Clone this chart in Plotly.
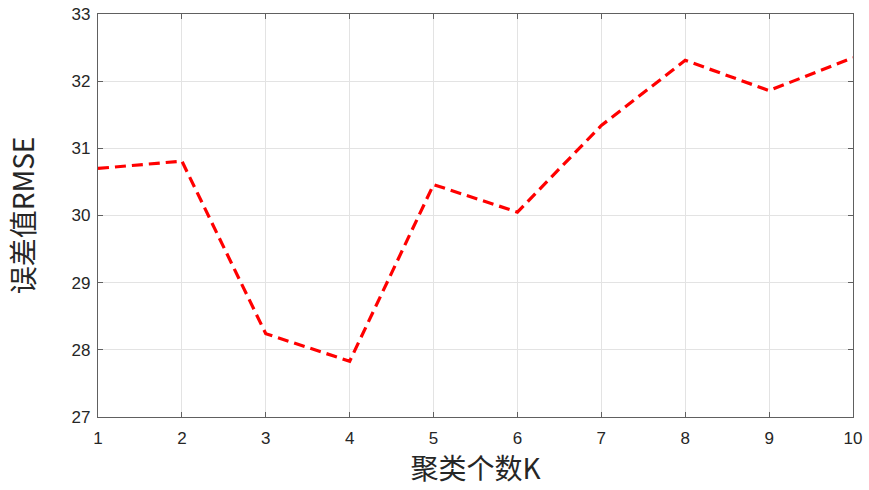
import plotly.graph_objects as go

k_values = [1, 2, 3, 4, 5, 6, 7, 8, 9, 10]
rmse_values = [30.70, 30.81, 28.24, 27.83, 30.46, 30.05, 31.34, 32.31, 31.86, 32.35]
x_ticks = [1, 2, 3, 4, 5, 6, 7, 8, 9, 10]
y_ticks = [27, 28, 29, 30, 31, 32, 33]

fig = go.Figure()
fig.add_trace(go.Scatter(
    x=k_values, y=rmse_values, mode="lines",
    line=dict(color="#ff0000", width=3.2, dash="11px,6px"),
    showlegend=False,
))

axis_common = dict(
    showline=True, mirror="ticks", linecolor="#606060", linewidth=1.2,
    ticks="inside", ticklen=5, tickcolor="#606060", tickwidth=1.2,
    showgrid=True, gridcolor="#e3e3e3", gridwidth=1,
    zeroline=False, automargin=False,
    tickfont=dict(family="Liberation Sans, Arial, sans-serif", size=17, color="#262626"),
)

title_font = dict(family="Noto Sans CJK SC, sans-serif", size=28, color="#262626")

fig.update_xaxes(
    range=[1, 10], tickvals=x_ticks, ticktext=[str(v) for v in x_ticks],
    ticklabelstandoff=5,
    title=dict(text="聚类个数K", font=title_font, standoff=3),
    **axis_common,
)
fig.update_yaxes(
    range=[27, 33], tickvals=y_ticks, ticktext=[str(v) for v in y_ticks],
    ticklabelstandoff=3,
    title=dict(text="误差值RMSE", font=title_font, standoff=28),
    **axis_common,
)

fig.update_layout(
    width=869, height=490,
    margin=dict(l=98, r=16, t=14, b=73),
    paper_bgcolor="white", plot_bgcolor="white",
)

fig.write_html(
    "out.html",
    config={"displayModeBar": False},
    post_script="document.body.style.margin='0';document.body.style.padding='0';document.documentElement.style.overflow='hidden';",
)
